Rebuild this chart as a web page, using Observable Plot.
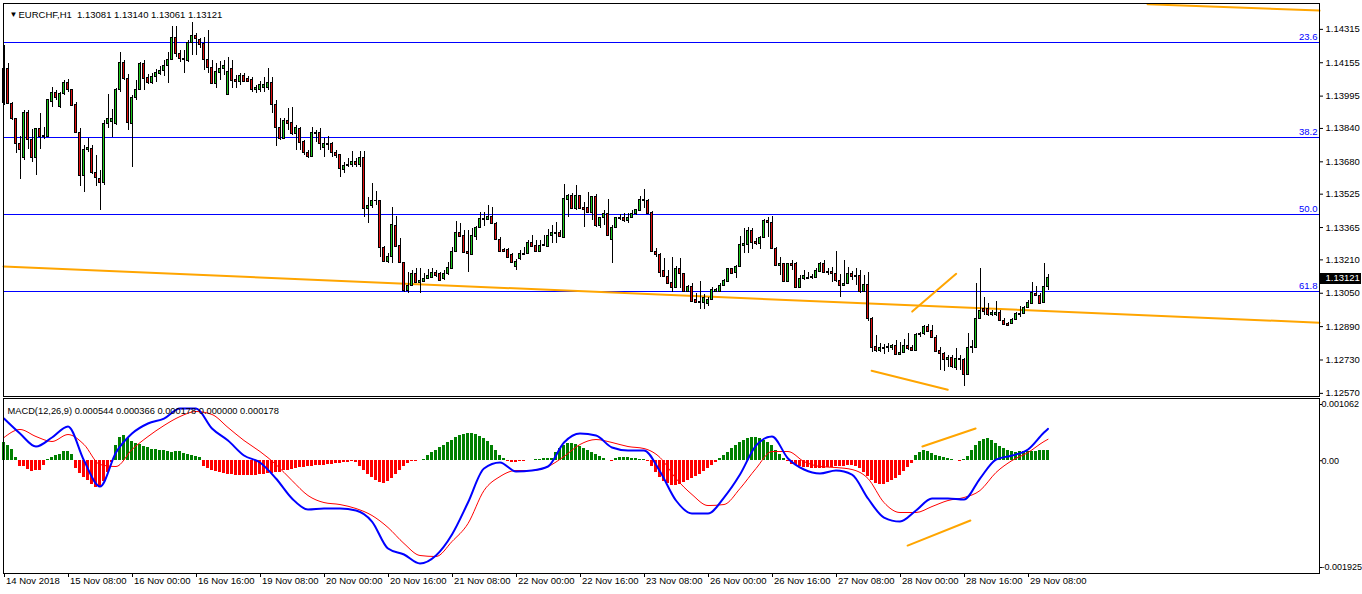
<!DOCTYPE html>
<html><head><meta charset="utf-8">
<script src="https://cdn.jsdelivr.net/npm/d3@7"></script>
<script src="https://cdn.jsdelivr.net/npm/@observablehq/plot@0.6"></script>
<style>
body{margin:0;background:#fff;}
#wrap{position:relative;width:1362px;height:594px;overflow:hidden;background:#fff;}
#main,#macd{position:absolute;left:0;}
#main{top:0;}
#macd{top:397px;}
svg{display:block;}
</style></head><body><div id="wrap"><div id="main"></div><div id="macd"></div></div>
<script>
const symbol = "EURCHF,H1";
const open = [
1.13964,1.14127,1.13959,1.13883,1.13767,1.13700,1.13916,1.13787,1.13700,1.13835,
1.13801,1.13801,1.13969,1.14012,1.13945,1.14007,1.14060,1.14022,1.13954,1.13820,
1.13614,1.13739,1.13743,1.13628,1.13600,1.13580,1.13859,1.13873,1.13863,1.14022,
1.14156,1.14079,1.13859,1.13988,1.14026,1.14151,1.14084,1.14060,1.14089,1.14103,
1.14117,1.14141,1.14170,1.14276,1.14199,1.14175,1.14161,1.14252,1.14285,1.14266,
1.14247,1.14170,1.14132,1.14055,1.14108,1.14127,1.14002,1.14127,1.14074,1.14065,
1.14093,1.14079,1.14074,1.14022,1.14026,1.14036,1.14036,1.14060,1.13954,1.13844,
1.13791,1.13878,1.13868,1.13815,1.13839,1.13777,1.13720,1.13705,1.13820,1.13820,
1.13748,1.13767,1.13767,1.13720,1.13715,1.13643,1.13662,1.13667,1.13681,1.13667,
1.13700,1.13456,1.13466,1.13490,1.13490,1.13269,1.13202,1.13226,1.13374,1.13278,
1.13197,1.13063,1.13087,1.13144,1.13101,1.13106,1.13120,1.13125,1.13149,1.13140,
1.13116,1.13140,1.13168,1.13250,1.13341,1.13326,1.13250,1.13235,1.13322,1.13365,
1.13408,1.13403,1.13417,1.13384,1.13307,1.13255,1.13255,1.13231,1.13178,1.13216,
1.13240,1.13240,1.13293,1.13278,1.13250,1.13278,1.13274,1.13326,1.13341,1.13341,
1.13317,1.13499,1.13518,1.13456,1.13514,1.13461,1.13461,1.13437,1.13509,1.13374,
1.13413,1.13432,1.13307,1.13365,1.13413,1.13413,1.13394,1.13413,1.13432,1.13446,
1.13499,1.13494,1.13437,1.13250,1.13235,1.13159,1.13130,1.13101,1.13077,1.13164,
1.13144,1.13058,1.13082,1.13019,1.13010,1.13005,1.13000,1.13019,1.13058,1.13058,
1.13087,1.13106,1.13164,1.13149,1.13178,1.13278,1.13283,1.13350,1.13298,1.13288,
1.13317,1.13394,1.13389,1.13264,1.13183,1.13188,1.13106,1.13192,1.13192,1.13077,
1.13116,1.13125,1.13125,1.13125,1.13154,1.13192,1.13149,1.13154,1.13140,1.13111,
1.13087,1.13096,1.13144,1.13130,1.13135,1.13058,1.13091,1.12928,1.12794,1.12775,
1.12789,1.12789,1.12789,1.12799,1.12756,1.12765,1.12799,1.12789,1.12775,1.12852,
1.12857,1.12890,1.12871,1.12837,1.12775,1.12761,1.12732,1.12741,1.12693,1.12737,
1.12732,1.12660,1.12789,1.12789,1.12928,1.12976,1.12976,1.12948,1.12948,1.12957,
1.12919,1.12904,1.12904,1.12924,1.12948,1.12952,1.12981,1.13000,1.13048,1.13039,
1.13005,1.13081];
const high = [
1.14237,1.14151,1.13964,1.13887,1.13801,1.13926,1.13926,1.13835,1.13839,1.13911,
1.13844,1.13978,1.14036,1.14022,1.14012,1.14069,1.14074,1.14026,1.13964,1.13839,
1.13758,1.13791,1.13758,1.13710,1.13638,1.13878,1.14002,1.13930,1.14031,1.14204,
1.14165,1.14098,1.13998,1.14069,1.14156,1.14165,1.14098,1.14103,1.14122,1.14137,
1.14165,1.14204,1.14328,1.14328,1.14213,1.14213,1.14261,1.14348,1.14295,1.14271,
1.14276,1.14309,1.14165,1.14151,1.14161,1.14165,1.14180,1.14165,1.14093,1.14103,
1.14103,1.14089,1.14084,1.14046,1.14065,1.14084,1.14127,1.14084,1.13974,1.13887,
1.13887,1.13935,1.13940,1.13854,1.13844,1.13782,1.13734,1.13844,1.13830,1.13839,
1.13791,1.13801,1.13772,1.13734,1.13715,1.13676,1.13696,1.13729,1.13696,1.13729,
1.13729,1.13509,1.13576,1.13537,1.13494,1.13274,1.13240,1.13461,1.13417,1.13312,
1.13197,1.13149,1.13159,1.13168,1.13168,1.13144,1.13164,1.13168,1.13159,1.13149,
1.13159,1.13197,1.13269,1.13394,1.13384,1.13350,1.13350,1.13360,1.13370,1.13437,
1.13437,1.13470,1.13461,1.13389,1.13317,1.13264,1.13264,1.13240,1.13212,1.13255,
1.13269,1.13302,1.13326,1.13302,1.13302,1.13326,1.13355,1.13374,1.13389,1.13350,
1.13571,1.13523,1.13528,1.13566,1.13518,1.13485,1.13533,1.13514,1.13523,1.13413,
1.13446,1.13499,1.13374,1.13413,1.13427,1.13432,1.13432,1.13446,1.13451,1.13513,
1.13547,1.13499,1.13442,1.13264,1.13240,1.13216,1.13159,1.13221,1.13178,1.13216,
1.13144,1.13087,1.13096,1.13048,1.13106,1.13043,1.13029,1.13077,1.13072,1.13096,
1.13116,1.13168,1.13168,1.13183,1.13322,1.13360,1.13365,1.13360,1.13312,1.13322,
1.13403,1.13413,1.13417,1.13269,1.13221,1.13188,1.13192,1.13207,1.13197,1.13135,
1.13159,1.13149,1.13140,1.13168,1.13197,1.13207,1.13168,1.13173,1.13250,1.13140,
1.13207,1.13173,1.13154,1.13168,1.13159,1.13135,1.13149,1.12933,1.12847,1.12809,
1.12804,1.12809,1.12804,1.12823,1.12813,1.12828,1.12857,1.12799,1.12857,1.12861,
1.12895,1.12900,1.12895,1.12847,1.12789,1.12765,1.12751,1.12751,1.12785,1.12751,
1.12737,1.12857,1.12823,1.13096,1.13168,1.13029,1.13000,1.12967,1.13010,1.12967,
1.12928,1.12909,1.12928,1.12957,1.12986,1.12986,1.13015,1.13101,1.13082,1.13048,
1.13192,1.13140];
const low = [
1.13950,1.13954,1.13878,1.13720,1.13595,1.13686,1.13739,1.13676,1.13614,1.13739,
1.13787,1.13796,1.13940,1.13974,1.13935,1.13998,1.14012,1.13945,1.13820,1.13561,
1.13533,1.13724,1.13619,1.13561,1.13446,1.13566,1.13839,1.13796,1.13854,1.14012,
1.14069,1.13830,1.13652,1.13974,1.14022,1.14022,1.14050,1.14050,1.14060,1.14093,
1.14089,1.14055,1.14165,1.14180,1.14156,1.14103,1.14156,1.14189,1.14189,1.14223,
1.14117,1.14103,1.14050,1.14031,1.14069,1.14093,1.13998,1.14031,1.14031,1.14046,
1.14060,1.14060,1.14012,1.14007,1.14012,1.14012,1.14022,1.13911,1.13753,1.13782,
1.13787,1.13830,1.13806,1.13734,1.13734,1.13710,1.13696,1.13700,1.13772,1.13734,
1.13700,1.13734,1.13700,1.13696,1.13604,1.13624,1.13652,1.13652,1.13652,1.13652,
1.13413,1.13384,1.13456,1.13470,1.13221,1.13197,1.13192,1.13192,1.13269,1.13192,
1.13053,1.13048,1.13082,1.13096,1.13048,1.13101,1.13116,1.13125,1.13125,1.13111,
1.13111,1.13135,1.13164,1.13245,1.13317,1.13240,1.13149,1.13230,1.13302,1.13360,
1.13370,1.13398,1.13384,1.13302,1.13245,1.13245,1.13221,1.13197,1.13159,1.13207,
1.13231,1.13235,1.13274,1.13250,1.13245,1.13274,1.13269,1.13288,1.13288,1.13317,
1.13312,1.13413,1.13451,1.13446,1.13451,1.13365,1.13432,1.13398,1.13365,1.13360,
1.13374,1.13322,1.13192,1.13360,1.13398,1.13389,1.13384,1.13408,1.13422,1.13442,
1.13456,1.13432,1.13245,1.13221,1.13125,1.13125,1.13091,1.13053,1.13072,1.13072,
1.13053,1.13053,1.13005,1.13000,1.12972,1.12972,1.12986,1.13015,1.13053,1.13053,
1.13082,1.13101,1.13140,1.13120,1.13173,1.13240,1.13240,1.13259,1.13278,1.13259,
1.13312,1.13317,1.13259,1.13178,1.13135,1.13101,1.13101,1.13159,1.13072,1.13072,
1.13111,1.13120,1.13116,1.13120,1.13149,1.13144,1.13135,1.13101,1.13101,1.13029,
1.13082,1.13091,1.13111,1.13087,1.13048,1.13053,1.12914,1.12765,1.12765,1.12765,
1.12756,1.12765,1.12775,1.12751,1.12751,1.12761,1.12775,1.12770,1.12770,1.12837,
1.12847,1.12861,1.12833,1.12765,1.12679,1.12674,1.12693,1.12689,1.12679,1.12679,
1.12603,1.12655,1.12761,1.12785,1.12924,1.12943,1.12938,1.12938,1.12938,1.12914,
1.12895,1.12890,1.12900,1.12919,1.12933,1.12948,1.12976,1.12995,1.13034,1.12995,
1.13000,1.13061];
const close = [
1.14127,1.13959,1.13883,1.13767,1.13739,1.13916,1.13787,1.13700,1.13835,1.13801,
1.13806,1.13974,1.14012,1.13988,1.14007,1.14060,1.14022,1.13950,1.13820,1.13614,
1.13739,1.13748,1.13628,1.13604,1.13580,1.13859,1.13887,1.13887,1.14022,1.14156,
1.14079,1.13868,1.13988,1.14026,1.14151,1.14079,1.14060,1.14089,1.14108,1.14117,
1.14141,1.14170,1.14276,1.14199,1.14175,1.14170,1.14252,1.14285,1.14271,1.14242,
1.14170,1.14132,1.14055,1.14113,1.14127,1.14141,1.14113,1.14069,1.14065,1.14093,
1.14065,1.14065,1.14022,1.14036,1.14050,1.14050,1.14060,1.13954,1.13844,1.13791,
1.13878,1.13863,1.13815,1.13844,1.13772,1.13720,1.13705,1.13820,1.13815,1.13767,
1.13767,1.13762,1.13720,1.13710,1.13648,1.13662,1.13667,1.13681,1.13667,1.13700,
1.13456,1.13470,1.13494,1.13494,1.13269,1.13202,1.13226,1.13379,1.13274,1.13197,
1.13063,1.13087,1.13144,1.13101,1.13111,1.13120,1.13135,1.13149,1.13135,1.13111,
1.13140,1.13173,1.13250,1.13341,1.13322,1.13245,1.13240,1.13326,1.13365,1.13408,
1.13403,1.13417,1.13384,1.13307,1.13250,1.13250,1.13221,1.13197,1.13202,1.13240,
1.13235,1.13293,1.13274,1.13250,1.13278,1.13283,1.13326,1.13341,1.13336,1.13322,
1.13504,1.13514,1.13456,1.13514,1.13456,1.13451,1.13437,1.13509,1.13374,1.13413,
1.13432,1.13326,1.13365,1.13413,1.13408,1.13398,1.13413,1.13432,1.13451,1.13499,
1.13494,1.13432,1.13250,1.13235,1.13149,1.13130,1.13096,1.13077,1.13168,1.13144,
1.13058,1.13082,1.13010,1.13005,1.13005,1.13029,1.13019,1.13067,1.13067,1.13087,
1.13111,1.13164,1.13144,1.13178,1.13283,1.13288,1.13350,1.13293,1.13288,1.13317,
1.13394,1.13389,1.13264,1.13183,1.13192,1.13106,1.13188,1.13183,1.13077,1.13116,
1.13135,1.13120,1.13130,1.13159,1.13192,1.13149,1.13154,1.13140,1.13111,1.13087,
1.13096,1.13144,1.13130,1.13135,1.13058,1.13091,1.12928,1.12789,1.12775,1.12789,
1.12785,1.12794,1.12799,1.12756,1.12765,1.12799,1.12785,1.12775,1.12852,1.12857,
1.12890,1.12866,1.12837,1.12770,1.12761,1.12732,1.12741,1.12698,1.12737,1.12732,
1.12660,1.12789,1.12794,1.12928,1.12967,1.12962,1.12948,1.12957,1.12957,1.12919,
1.12900,1.12895,1.12924,1.12952,1.12952,1.12981,1.13005,1.13053,1.13039,1.13000,
1.13082,1.13121];

// MACD(12,26,9): main line and signal, read at every 4th bar (+ last bar)
const macdIdx = [0,4,8,12,16,20,24,28,32,36,40,44,48,52,56,60,64,68,72,76,80,84,88,92,96,100,104,108,112,116,120,124,128,132,136,140,144,148,152,156,160,164,168,172,176,180,184,188,192,196,200,204,208,212,216,220,224,228,232,236,240,244,248,252,256,260,261];
const macdLine = [0.000720,0.000464,0.000242,0.000396,0.000584,0.000003,-0.000440,0.000140,0.000464,0.000635,0.000720,0.000891,0.000891,0.000550,0.000345,0.000089,-0.000031,-0.000304,-0.000645,-0.000833,-0.000816,-0.000816,-0.000850,-0.001038,-0.001499,-0.001601,-0.001755,-0.001618,-0.001260,-0.000714,-0.000133,-0.000031,-0.000184,-0.000167,-0.000099,0.000311,0.000464,0.000430,0.000225,0.000174,0.000174,-0.000184,-0.000679,-0.000901,-0.000901,-0.000628,-0.000236,0.000259,0.000413,0.000038,-0.000150,-0.000218,-0.000167,-0.000236,-0.000645,-0.000970,-0.001038,-0.000850,-0.000645,-0.000645,-0.000662,-0.000304,0.000020,0.000089,0.000191,0.000481,0.000544];
const signalLine = [0.000396,0.000533,0.000413,0.000328,0.000447,0.000277,-0.000065,-0.000099,0.000191,0.000413,0.000601,0.000754,0.000840,0.000789,0.000567,0.000345,0.000157,-0.000065,-0.000338,-0.000594,-0.000714,-0.000748,-0.000816,-0.000935,-0.001140,-0.001413,-0.001618,-0.001635,-0.001379,-0.001072,-0.000509,-0.000270,-0.000167,-0.000167,-0.000099,0.000072,0.000277,0.000362,0.000311,0.000242,0.000208,0.000055,-0.000304,-0.000577,-0.000765,-0.000748,-0.000475,-0.000133,0.000157,0.000157,-0.000014,-0.000099,-0.000116,-0.000150,-0.000304,-0.000714,-0.000884,-0.000884,-0.000782,-0.000679,-0.000628,-0.000509,-0.000201,0.000003,0.000140,0.000328,0.000366];
const histogram = [
0.000311,0.000259,0.000191,0.000055,-0.000099,-0.000099,-0.000150,-0.000184,-0.000167,-0.000167,
-0.000082,0.000020,0.000055,0.000089,0.000106,0.000157,0.000157,0.000106,-0.000133,-0.000218,
-0.000287,-0.000338,-0.000406,-0.000457,-0.000440,-0.000355,-0.000201,-0.000031,0.000259,0.000396,
0.000430,0.000379,0.000328,0.000294,0.000277,0.000242,0.000225,0.000191,0.000191,0.000174,
0.000174,0.000157,0.000140,0.000157,0.000157,0.000123,0.000106,0.000089,0.000072,0.000055,
-0.000099,-0.000133,-0.000167,-0.000184,-0.000201,-0.000218,-0.000236,-0.000236,-0.000253,-0.000253,
-0.000253,-0.000253,-0.000253,-0.000253,-0.000236,-0.000236,-0.000218,-0.000218,-0.000201,-0.000201,
-0.000167,-0.000167,-0.000150,-0.000133,-0.000116,-0.000116,-0.000099,-0.000099,-0.000082,-0.000082,
-0.000082,-0.000065,-0.000065,-0.000048,-0.000048,-0.000031,-0.000031,-0.000014,-0.000031,-0.000099,
-0.000167,-0.000236,-0.000287,-0.000338,-0.000372,-0.000389,-0.000355,-0.000304,-0.000236,-0.000167,
-0.000099,-0.000048,-0.000014,-0.000014,0.000003,0.000020,0.000089,0.000140,0.000174,0.000225,
0.000259,0.000311,0.000345,0.000396,0.000430,0.000447,0.000464,0.000464,0.000447,0.000413,
0.000379,0.000328,0.000259,0.000174,0.000089,0.000038,-0.000014,-0.000031,-0.000031,-0.000014,
-0.000014,0.000003,0.000003,0.000020,0.000020,0.000038,0.000038,0.000038,0.000140,0.000208,
0.000259,0.000294,0.000294,0.000277,0.000242,0.000208,0.000174,0.000140,0.000106,0.000072,
0.000038,0.000003,-0.000014,0.000038,0.000055,0.000055,0.000055,0.000038,0.000038,0.000020,
0.000020,-0.000014,-0.000099,-0.000201,-0.000287,-0.000355,-0.000389,-0.000423,-0.000423,-0.000406,
-0.000372,-0.000338,-0.000304,-0.000270,-0.000236,-0.000184,-0.000133,-0.000082,-0.000031,0.000038,
0.000089,0.000140,0.000208,0.000259,0.000311,0.000345,0.000379,0.000396,0.000396,0.000379,
0.000345,0.000311,0.000259,0.000174,0.000106,0.000038,-0.000014,-0.000065,-0.000082,-0.000099,
-0.000116,-0.000116,-0.000133,-0.000133,-0.000133,-0.000133,-0.000116,-0.000116,-0.000099,-0.000099,
-0.000099,-0.000082,-0.000082,-0.000099,-0.000133,-0.000201,-0.000270,-0.000338,-0.000389,-0.000406,
-0.000406,-0.000372,-0.000338,-0.000304,-0.000253,-0.000184,-0.000116,-0.000048,0.000089,0.000140,
0.000174,0.000157,0.000123,0.000089,0.000072,0.000055,0.000038,0.000020,0.000003,-0.000014,
0.000020,0.000072,0.000174,0.000259,0.000328,0.000362,0.000379,0.000345,0.000294,0.000242,
0.000208,0.000174,0.000157,0.000140,0.000157,0.000157,0.000157,0.000157,0.000157,0.000174,
0.000174,0.000178];

const priceTicks = [1.14315,1.14155,1.13995,1.13840,1.13680,1.13525,1.13365,1.13210,1.13050,1.12890,1.12730,1.12570];
const fibLevels = [1.14250,1.13796,1.13427,1.13058];
const fibLabels = ["23.6","38.2","50.0","61.8"];
const trendMainIdx = [-0.125, 328.875];
const trendMainPrice = [1.13178, 1.12909];
const trendTopIdx = [285.9, 328.875];
const trendTopPrice = [1.14436, 1.14405];
const divUpIdx = [227.05, 238.05];
const divUpPrice = [1.12962, 1.13143];
const divDownIdx = [216.9, 235.95];
const divDownPrice = [1.12678, 1.12587];
const macdDivUpIdx = [229.6, 242.9];
const macdDivUpVal = [0.000242, 0.000550];
const macdDivDownIdx = [225.9, 241.6];
const macdDivDownVal = [-0.001448, -0.001021];
const macdAxisTicks = [0.001062, 0, -0.001925];
const macdAxisLabels = ["0.001062", "0.00", "-0.001925"];
const dateTicks = [0,16,32,48,64,80,96,112,128,144,160,176,192,208,224,240,256];
const dateLabels = ["14 Nov 2018","15 Nov 08:00","16 Nov 00:00","16 Nov 16:00","19 Nov 08:00","20 Nov 00:00","20 Nov 16:00","21 Nov 08:00","22 Nov 00:00","22 Nov 16:00","23 Nov 08:00","26 Nov 00:00","26 Nov 16:00","27 Nov 08:00","28 Nov 00:00","28 Nov 16:00","29 Nov 08:00"];

// ---- build ----
const W = 1362, MR = 43, ML = 3;
const frameW = W - MR - ML;
const xDomain = [-0.125, 328.875];
const font = "'Liberation Sans', Arial, sans-serif";
const upCol = "#1ec81e", downCol = "#e01010", orange = "#ffa500";
const n = close.length - 1;

const bars = close.map((c, i) => ({i, o: open[i], h: high[i], l: low[i], c}));
const pairs = (xs, ys) => xs.map((x, k) => ({i: x, v: ys[k]}));
const fibData = fibLevels.map((p, k) => ({p, label: fibLabels[k]}));
const headText = `${symbol}\u00a0\u00a0${open[n].toFixed(5)} ${high[n].toFixed(5)} ${low[n].toFixed(5)} ${close[n].toFixed(5)}`;

const main = Plot.plot({
  width: W, height: 397,
  marginLeft: ML, marginRight: MR, marginTop: 3, marginBottom: 1,
  style: {fontFamily: font, fontSize: "9.5px", color: "#000", background: "#fff", overflow: "visible"},
  x: {type: "linear", domain: xDomain, axis: null},
  y: {type: "linear", domain: [1.12555, 1.14439], axis: "right", ticks: priceTicks,
      tickFormat: d => d.toFixed(5), tickSize: 3, tickPadding: 3, label: null},
  marks: [
    Plot.ruleY(fibData, {y: "p", stroke: "#0000ff", strokeWidth: 1, shapeRendering: "crispEdges"}),
    Plot.text(fibData, {y: "p", text: "label", frameAnchor: "right", textAnchor: "end", dx: -2, dy: -6, fill: "#0000ff"}),
    Plot.line(pairs(trendMainIdx, trendMainPrice), {x: "i", y: "v", stroke: orange, strokeWidth: 2}),
    Plot.line(pairs(trendTopIdx, trendTopPrice), {x: "i", y: "v", stroke: orange, strokeWidth: 2}),
    Plot.line(pairs(divUpIdx, divUpPrice), {x: "i", y: "v", stroke: orange, strokeWidth: 2}),
    Plot.line(pairs(divDownIdx, divDownPrice), {x: "i", y: "v", stroke: orange, strokeWidth: 2}),
    Plot.ruleX(bars, {x: "i", y1: "l", y2: "h", stroke: "#000", strokeWidth: 1, shapeRendering: "crispEdges"}),
    Plot.rect(bars.filter(d => d.o !== d.c), {x1: d => d.i - 0.25, x2: d => d.i + 0.25, y1: "o", y2: "c",
      fill: d => d.c > d.o ? upCol : downCol, stroke: "#000", strokeWidth: 1, shapeRendering: "crispEdges"}),
    Plot.ruleY(bars.filter(d => d.o === d.c), {y: "o", x1: d => d.i - 0.375, x2: d => d.i + 0.375, stroke: "#000", shapeRendering: "crispEdges"}),
    Plot.frame({stroke: "#000", shapeRendering: "crispEdges"}),
    // current price box on the right axis
    Plot.ruleY([close[n]], {y: d => d, insetLeft: frameW, insetRight: -42, stroke: "#000", strokeWidth: 11}),
    Plot.text([close[n]], {y: d => d, text: d => d.toFixed(5), frameAnchor: "right", textAnchor: "start", dx: 6, fill: "#fff"}),
    Plot.text(["▼"], {frameAnchor: "top-left", dx: 6, dy: 8, fontSize: 8, textAnchor: "start"}),
    Plot.text([headText], {frameAnchor: "top-left", dx: 15, dy: 8, textAnchor: "start"})
  ]
});
document.getElementById("main").appendChild(main);

const histData = histogram.map((h, i) => ({i, h}));
const macdTitle = `MACD(12,26,9) ${macdLine[macdLine.length-1].toFixed(6)} ${signalLine[signalLine.length-1].toFixed(6)} ${histogram[n].toFixed(6)} ${(0).toFixed(6)} ${histogram[n].toFixed(6)}`;
const macdDy = [6, 0, -6];

const macd = Plot.plot({
  width: W, height: 197,
  marginLeft: ML, marginRight: MR, marginTop: 1, marginBottom: 21,
  style: {fontFamily: font, fontSize: "9.5px", color: "#000", background: "#fff", overflow: "visible"},
  x: {type: "linear", domain: xDomain, axis: null},
  y: {type: "linear", domain: [-0.001925, 0.001062], axis: null},
  marks: [
    Plot.rect(histData, {x1: d => d.i - 0.375, x2: d => d.i + 0.375, y1: 0, y2: "h",
      fill: d => d.h >= 0 ? "#008000" : "#ff0000", shapeRendering: "crispEdges"}),
    Plot.line(pairs(macdIdx, signalLine), {x: "i", y: "v", stroke: "#ff0000", strokeWidth: 1, curve: "monotone-x"}),
    Plot.line(pairs(macdIdx, macdLine), {x: "i", y: "v", stroke: "#0000ff", strokeWidth: 2, curve: "monotone-x"}),
    Plot.line(pairs(macdDivUpIdx, macdDivUpVal), {x: "i", y: "v", stroke: orange, strokeWidth: 2}),
    Plot.line(pairs(macdDivDownIdx, macdDivDownVal), {x: "i", y: "v", stroke: orange, strokeWidth: 2}),
    Plot.frame({stroke: "#000", shapeRendering: "crispEdges"}),
    ...macdAxisTicks.map((t, k) => Plot.ruleY([t], {y: d => d, insetLeft: frameW, insetRight: -3, dy: macdDy[k], stroke: "#000"})),
    ...macdAxisTicks.map((t, k) => Plot.text([t], {y: d => d, text: () => macdAxisLabels[k], frameAnchor: "right", textAnchor: "start", dx: 2, dy: macdDy[k], fontSize: 9})),
    Plot.ruleX(dateTicks, {x: d => d, insetTop: 175, insetBottom: -4, stroke: "#000", shapeRendering: "crispEdges"}),
    Plot.text(dateTicks, {x: d => d, text: (d, k) => dateLabels[k], frameAnchor: "bottom", textAnchor: "start", dx: 2, dy: 10}),
    Plot.text([macdTitle], {frameAnchor: "top-left", dx: 4, dy: 9, textAnchor: "start", fontSize: 9.3})
  ]
});
document.getElementById("macd").appendChild(macd);
</script>
</body></html>
